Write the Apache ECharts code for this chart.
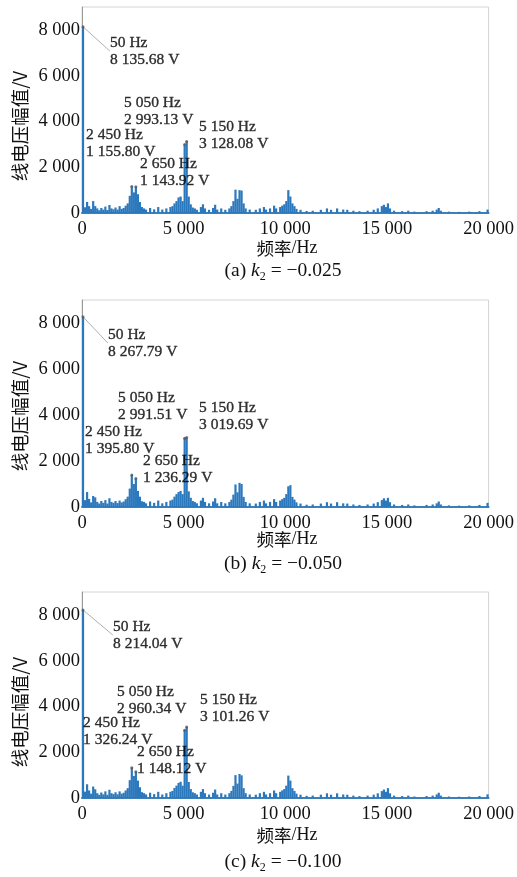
<!DOCTYPE html>
<html>
<head>
<meta charset="utf-8">
<script src="https://cdn.jsdelivr.net/npm/echarts@6/dist/echarts.min.js"></script>
<style>
html,body{margin:0;padding:0;background:#fff;}
#c{width:517px;height:877px;}
</style>
</head>
<body>
<div id="c"></div>
<script>
// ---------- data ----------
const freqs = [50,150,250,350,450,550,650,750,850,950,1050,1150,1250,1350,1450,1550,1650,1750,1850,1950,2050,2150,2250,2350,2450,2550,2650,2750,2850,2950,3050,3150,3350,3550,3750,3950,4150,4350,4450,4550,4650,4750,4850,4950,5050,5150,5250,5350,5450,5550,5650,5850,5950,6050,6250,6450,6550,6650,6850,7050,7250,7350,7450,7550,7650,7750,7850,7950,8050,8250,8550,8750,8950,9050,9250,9450,9550,9750,9850,9950,10050,10150,10250,10350,10450,10550,10750,11050,11350,11750,12050,12250,12550,12850,13050,13350,13650,14050,14350,14550,14750,14850,14950,15050,15150,15350,15750,16050,16350,16950,17250,17450,17550,17650,18050,18550,19050,19550,19950];

const ampsA = [8135.68,250,480,300,180,520,300,200,120,220,150,280,130,350,200,160,240,150,300,180,220,320,420,750,1155.80,900,1143.92,820,480,260,200,150,220,160,260,150,200,260,300,420,520,680,720,520,2993.13,3128.08,720,380,240,200,140,260,380,200,140,220,360,150,200,140,200,300,520,1020,620,1000,980,420,200,150,140,200,260,150,200,320,200,260,320,380,520,1000,720,420,300,180,140,90,100,140,200,140,200,150,140,100,80,100,140,200,300,360,260,420,200,100,80,100,60,80,100,150,220,100,60,50,60,80,150];

const ampsB = [8267.79,300,650,350,200,480,420,220,150,260,180,300,150,380,220,180,260,170,280,200,240,340,450,800,1395.80,1000,1236.29,700,450,250,220,160,240,180,280,160,220,280,320,450,560,650,700,560,2991.51,3019.69,680,400,260,220,160,280,400,220,160,240,380,160,220,160,220,320,540,980,640,1050,1000,440,220,160,150,220,280,160,220,340,220,280,340,400,560,900,950,440,320,200,150,100,110,150,210,150,210,160,150,110,90,110,150,210,300,380,280,400,210,110,90,110,70,90,110,160,240,110,70,60,70,90,180];

const ampsC = [8214.04,280,600,330,190,500,380,210,140,240,160,290,140,360,210,170,250,160,290,190,230,330,430,780,1326.24,960,1148.12,760,470,255,210,155,230,170,270,155,210,270,310,440,540,660,710,540,2960.34,3101.26,700,390,250,210,150,270,390,210,150,230,370,155,210,150,210,310,530,1000,630,1050,990,430,210,155,145,210,270,155,210,330,210,270,330,390,540,980,760,430,310,190,145,95,105,145,205,145,205,155,145,105,85,105,145,205,300,370,270,430,205,105,85,105,65,85,105,155,230,105,65,55,65,85,160];

// annotated data tips [freq, amplitude]
const tipsA = [[50,8135.68],[5050,2993.13],[5150,3128.08],[2450,1155.80],[2650,1143.92]];
const tipsB = [[50,8267.79],[5050,2991.51],[5150,3019.69],[2450,1395.80],[2650,1236.29]];
const tipsC = [[50,8214.04],[5050,2960.34],[5150,3101.26],[2450,1326.24],[2650,1148.12]];

const captions = [['(a) ','−0.025'],['(b) ','−0.050'],['(c) ','−0.100']];
const xTicks = [0,5000,10000,15000,20000];
const yTicks = [0,2000,4000,6000,8000];

// ---------- layout / style (not data) ----------
const grids = [{top:7,bottom:213},{top:300,bottom:507},{top:592,bottom:798}];
const labelPos = [
  [[110,34],[124,94],[199,118],[86,126],[140,155]],
  [[108,326],[118,389],[199,399],[85,423],[143,452]],
  [[113,618],[117,683],[200,691],[83,714],[137,743]]
];
const yNameY = [126,416,712];
const xNameY = [248,539,835];
const capY = [271,564,862];

const BLUE = '#2b78bd';
const SERIF = '"Liberation Serif","DejaVu Serif",serif';
const CJK = '"Noto Sans CJK SC","Noto Serif CJK SC",sans-serif';
const INK = '#111';

function grp(v){
  const s = String(v);
  const parts = s.split('.');
  parts[0] = parts[0].replace(/\B(?=(\d{3})+(?!\d))/g,' ');
  return parts.join('.');
}

const ampsAll = [ampsA, ampsB, ampsC];
const tipsAll = [tipsA, tipsB, tipsC];

const option = {
  animation:false,
  backgroundColor:'#fff',
  grid: grids.map(g => ({left:82, right:28, top:g.top, height:g.bottom-g.top, show:true, borderColor:'#d4d4d4', borderWidth:1})),
  xAxis: grids.map((g,i) => ({
    type:'value', gridIndex:i, min:0, max:20000, interval:5000,
    axisLine:{show:true, onZero:false, lineStyle:{color:'#3f7fb8', width:2}},
    axisTick:{show:false}, splitLine:{show:false},
    axisLabel:{color:INK, fontFamily:SERIF, fontSize:18.5, margin:7, formatter:v => grp(v)}
  })),
  yAxis: grids.map((g,i) => ({
    type:'value', gridIndex:i, min:0, max:9000, interval:2000,
    axisLine:{show:true, lineStyle:{color:'#999', width:1}},
    axisTick:{show:false}, splitLine:{show:false},
    axisLabel:{color:INK, fontFamily:SERIF, fontSize:18.5, margin:2, showMaxLabel:false,
      formatter:v => (v % 2000 === 0 ? grp(v) : '')}
  })),
  series: [],
  graphic: []
};

for (let i=0;i<3;i++){
  option.series.push({
    type:'bar', xAxisIndex:i, yAxisIndex:i, barWidth:2.2, barGap:'-100%',
    itemStyle:{color:BLUE}, z:2,
    data: freqs.map((f,k) => [f, ampsAll[i][k]])
  });
  const pos = labelPos[i];
  option.series.push({
    type:'scatter', xAxisIndex:i, yAxisIndex:i, symbol:'circle', symbolSize:3, z:5,
    itemStyle:{color:'#555'},
    data: tipsAll[i].map((t,k) => ({
      value:t,
      labelLine: k===0 ? {show:true, lineStyle:{color:'#b0b0b0', width:1}} : {show:false}
    })),
    label:{show:true, color:'#000', fontFamily:SERIF, fontSize:15.5, lineHeight:17,
      textBorderColor:'#000', textBorderWidth:0.35,
      formatter: p => grp(p.value[0]) + ' Hz\n' + grp(p.value[1].toFixed(2)) + ' V'},
    labelLine:{show:false},
    labelLayout: p => ({x:pos[p.dataIndex][0], y:pos[p.dataIndex][1], align:'left', verticalAlign:'top'})
  });
  option.graphic.push({
    type:'text', x:20, y:yNameY[i], rotation:Math.PI/2,
    style:{text:'线电压幅值/V', font:'18.5px ' + CJK, fill:INK, align:'center', verticalAlign:'middle'}
  });
  option.graphic.push({
    type:'text', x:287, y:xNameY[i],
    style:{text:'{c|频率}{l|/Hz}', align:'center', verticalAlign:'middle',
      rich:{c:{fontFamily:CJK, fontSize:17.5, fill:INK}, l:{fontFamily:SERIF, fontSize:18, fill:INK}}}
  });
  option.graphic.push({
    type:'text', x:283, y:capY[i],
    style:{text:'{n|' + captions[i][0] + '}{k|k}{s|2}{n| = ' + captions[i][1] + '}',
      align:'center', verticalAlign:'middle',
      rich:{
        n:{fontFamily:SERIF, fontSize:19.5, fill:INK, lineHeight:24, verticalAlign:'middle'},
        k:{fontFamily:SERIF, fontStyle:'italic', fontSize:19.5, fill:INK, lineHeight:24, verticalAlign:'middle'},
        s:{fontFamily:SERIF, fontSize:12, fill:INK, lineHeight:12, verticalAlign:'bottom'}
      }}
  });
}

const chart = echarts.init(document.getElementById('c'), null, {renderer:'canvas'});
chart.setOption(option);
</script>
</body>
</html>
